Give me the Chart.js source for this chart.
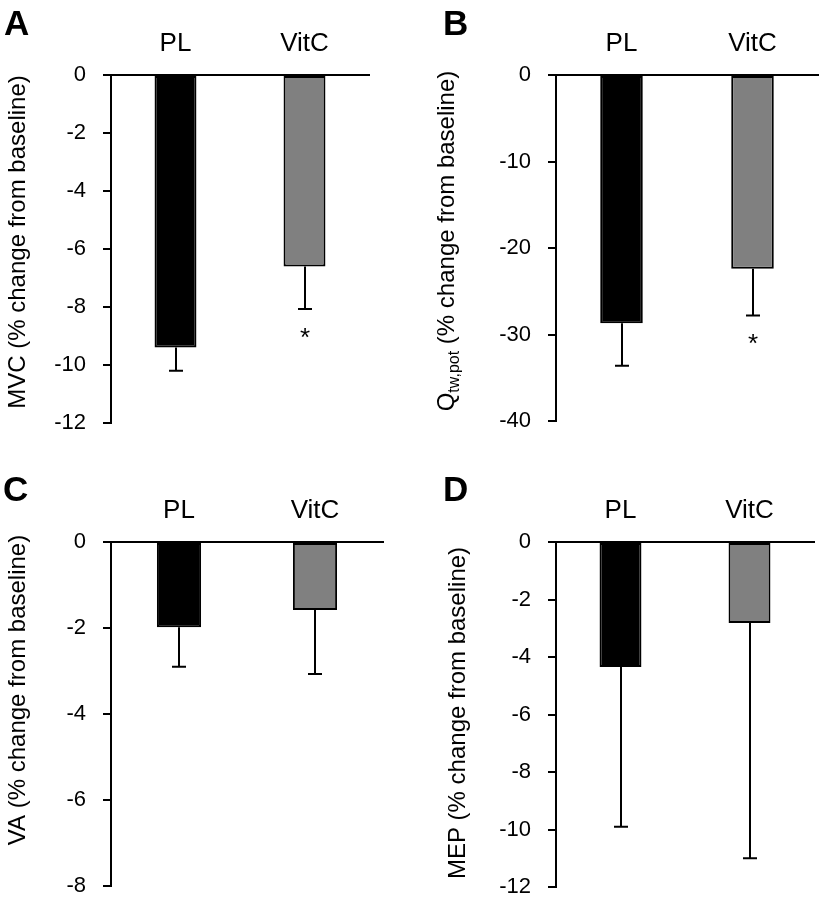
<!DOCTYPE html>
<html>
<head>
<meta charset="utf-8">
<script src="https://cdn.jsdelivr.net/npm/chart.js@4.4.1/dist/chart.umd.min.js"></script>
<style>
body { margin: 0; background: #fff; width: 819px; height: 906px; position: relative; overflow: hidden; font-family: "Liberation Sans", Arial, sans-serif; }
canvas { position: absolute; }
.letter { position: absolute; font-weight: bold; font-size: 35px; line-height: 1; color: #000; }
</style>
</head>
<body>
<canvas id="cA" width="410" height="467" style="left:0;top:0"></canvas>
<canvas id="cB" width="409" height="467" style="left:410px;top:0"></canvas>
<canvas id="cC" width="410" height="470" style="left:0;top:467px"></canvas>
<canvas id="cD" width="409" height="470" style="left:410px;top:467px"></canvas>
<div class="letter" style="left:4px;top:5px">A</div>
<div class="letter" style="left:443px;top:5px">B</div>
<div class="letter" style="left:3px;top:471px">C</div>
<div class="letter" style="left:443px;top:471px">D</div>
<script>
// groups
var categories = ['PL', 'VitC'];
var barColors = ['#000000', '#808080'];

// A: MVC
var mvcMean = [-9.4, -6.6];
var mvcErr = [0.8, 1.47];
// B: Qtw,pot
var qtwMean = [-28.7, -22.4];
var qtwErr = [4.9, 5.4];
// C: VA
var vaMean = [-1.98, -1.58];
var vaErr = [0.92, 1.49];
// D: MEP
var mepMean = [-4.35, -2.82];
var mepErr = [5.55, 8.18];

// significance marks (* under the error bar)
var mvcStars = [false, true];
var qtwStars = [false, true];
var noStars = [false, false];

var panelPlugin = {
  id: 'panelExtras',
  afterDatasetsDraw: function(chart, args, opts) {
    var ctx = chart.ctx;
    var yScale = chart.scales.y;
    var meta = chart.getDatasetMeta(0);
    ctx.save();
    ctx.strokeStyle = '#000';
    ctx.fillStyle = '#000';
    ctx.lineWidth = 2;
    meta.data.forEach(function(bar, i) {
      var x = Math.round(bar.x);
      var y0 = yScale.getPixelForValue(opts.means[i]);
      var y1 = yScale.getPixelForValue(opts.means[i] - opts.errs[i]);
      ctx.beginPath();
      ctx.moveTo(x, y0);
      ctx.lineTo(x, y1);
      ctx.moveTo(x - 7, y1);
      ctx.lineTo(x + 7, y1);
      ctx.stroke();
      if (opts.stars[i]) {
        ctx.font = '26px "Liberation Sans"';
        ctx.textAlign = 'center';
        ctx.textBaseline = 'alphabetic';
        ctx.fillText('*', x, y1 + 37);
      }
    });

    // rotated y title, pieces may be subscripted
    ctx.translate(opts.titleX, opts.titleY);
    ctx.rotate(-Math.PI / 2);
    ctx.textAlign = 'left';
    ctx.textBaseline = 'alphabetic';
    var total = 0;
    opts.title.forEach(function(p) {
      ctx.font = p.size + 'px "Liberation Sans"';
      p.w = ctx.measureText(p.t).width;
      total += p.w;
    });
    var cx = -total / 2;
    opts.title.forEach(function(p) {
      ctx.font = p.size + 'px "Liberation Sans"';
      ctx.fillText(p.t, cx, p.dy || 0);
      cx += p.w;
    });
    ctx.restore();
  }
};

function makePanel(id, means, errs, stars, yMin, yStep, axisWidth, padRight, padBottom, title, titleX, titleY) {
  new Chart(document.getElementById(id), {
    type: 'bar',
    data: {
      labels: categories,
      datasets: [{
        data: means,
        backgroundColor: barColors,
        borderColor: '#000',
        borderWidth: 2,
        borderSkipped: false,
        barPercentage: 0.325,
        categoryPercentage: 1
      }]
    },
    options: {
      responsive: false,
      animation: false,
      layout: { padding: { left: 0, top: 0, right: padRight, bottom: padBottom } },
      plugins: {
        legend: { display: false },
        tooltip: { enabled: false },
        panelExtras: { means: means, errs: errs, stars: stars, title: title, titleX: titleX, titleY: titleY }
      },
      scales: {
        x: {
          position: 'top',
          grid: { display: false, drawTicks: false },
          border: { display: true, color: '#000', width: 2 },
          ticks: { color: '#000', font: { family: 'Liberation Sans', size: 26 }, padding: 16 },
          afterFit: function(s) { s.height = 75; }
        },
        y: {
          min: yMin,
          max: 0,
          grid: { drawOnChartArea: false, drawTicks: true, tickLength: 8, color: '#000', lineWidth: 2 },
          border: { display: true, color: '#000', width: 2 },
          ticks: { stepSize: yStep, color: '#000', font: { family: 'Liberation Sans', size: 22 }, padding: 17 },
          afterFit: function(s) { s.width = axisWidth; }
        }
      }
    },
    plugins: [panelPlugin]
  });
}

var rest = ' (% change from baseline)';
makePanel('cA', mvcMean, mvcErr, mvcStars, -12, 2, 111, 41, 44,
  [{ t: 'MVC' + rest, size: 24 }], 25, 242);
makePanel('cB', qtwMean, qtwErr, qtwStars, -40, 10, 146, 1, 46,
  [{ t: 'Q', size: 24 }, { t: 'tw,pot', size: 16, dy: 5 }, { t: rest, size: 24 }], 44, 241);
makePanel('cC', vaMean, vaErr, noStars, -8, 2, 111, 27, 51,
  [{ t: 'VA' + rest, size: 24 }], 25, 223);
makePanel('cD', mepMean, mepErr, noStars, -12, 2, 146, 5, 50,
  [{ t: 'MEP' + rest, size: 24 }], 55, 246);
</script>
</body>
</html>
